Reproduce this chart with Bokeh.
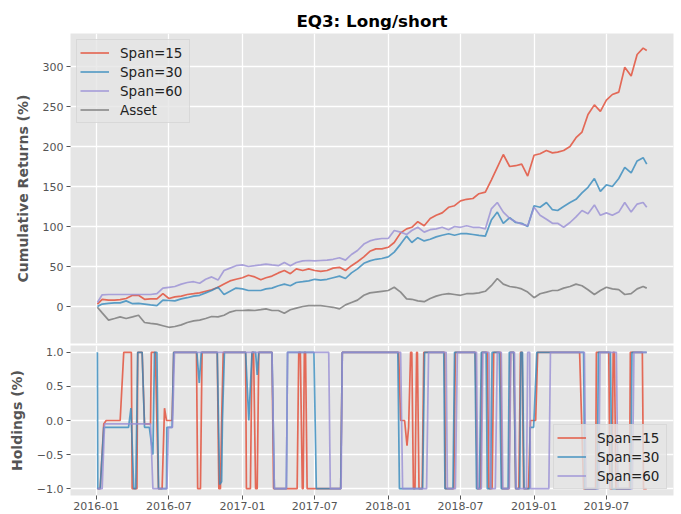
import pandas as pd
from bokeh.plotting import figure
from bokeh.models import (Range1d, FixedTicker, DatetimeTickFormatter, CustomJSTickFormatter,
                          Legend, LegendItem)
from bokeh.layouts import column
from bokeh.embed import file_html
from bokeh.resources import INLINE

# ---------------- data ----------------
dates = [
    "2016-01-04", "2016-01-16", "2016-02-01", "2016-02-16", "2016-03-01", "2016-03-16",
    "2016-04-01", "2016-04-16", "2016-05-01", "2016-05-16", "2016-06-01", "2016-06-16",
    "2016-07-01", "2016-07-16", "2016-08-01", "2016-08-16", "2016-09-01", "2016-09-16",
    "2016-10-01", "2016-10-16", "2016-11-01", "2016-11-16", "2016-12-01", "2016-12-16",
    "2017-01-01", "2017-01-16", "2017-02-01", "2017-02-16", "2017-03-01", "2017-03-16",
    "2017-04-01", "2017-04-16", "2017-05-01", "2017-05-16", "2017-06-01", "2017-06-16",
    "2017-07-01", "2017-07-16", "2017-08-01", "2017-08-16", "2017-09-01", "2017-09-16",
    "2017-10-01", "2017-10-16", "2017-11-01", "2017-11-16", "2017-12-01", "2017-12-16",
    "2018-01-01", "2018-01-16", "2018-02-01", "2018-02-16", "2018-03-01", "2018-03-16",
    "2018-04-01", "2018-04-16", "2018-05-01", "2018-05-16", "2018-06-01", "2018-06-16",
    "2018-07-01", "2018-07-16", "2018-08-01", "2018-08-16", "2018-09-01", "2018-09-16",
    "2018-10-01", "2018-10-16", "2018-11-01", "2018-11-16", "2018-12-01", "2018-12-16",
    "2019-01-01", "2019-01-16", "2019-02-01", "2019-02-16", "2019-03-01", "2019-03-16",
    "2019-04-01", "2019-04-16", "2019-05-01", "2019-05-16", "2019-06-01", "2019-06-16",
    "2019-07-01", "2019-07-16", "2019-08-01", "2019-08-16", "2019-09-01", "2019-09-16",
    "2019-10-01", "2019-10-10",
]

ret_span15 = [
    3, 9, 8, 8, 8.5, 10, 14, 14, 9, 9.6, 9.6, 16, 10, 12, 13, 15, 16, 17, 19, 21, 24, 28, 32, 34,
    36, 39, 37, 33.5, 36, 38, 42, 45, 41, 47, 45, 47, 45, 44, 45, 48, 49, 45, 51, 56, 62, 69, 72, 72,
    74, 80, 92, 97, 99, 106, 101, 110, 114, 117, 124, 126, 132, 134, 135, 141, 143, 158, 174, 190, 175, 176, 178, 163,
    189, 191, 195, 192, 193, 195, 200, 211, 218, 240, 252, 244, 258, 265, 268, 299, 288, 315, 323, 320,
]
ret_span30 = [
    0, 3, 4, 4.5, 4.5, 7, 3.5, 4, 3, 2, 1, 8, 7.5, 7, 9.5, 11, 13, 14, 17, 20, 24, 15, 19, 23,
    22, 20, 20, 20, 22, 23, 26, 28, 26, 30, 31, 32, 34, 33, 34, 36, 38, 35, 42, 47, 54, 57, 59, 60,
    62, 68, 78, 88, 80, 86, 82, 84, 87, 89, 91, 89, 91, 91, 90, 89, 88, 108, 118, 104, 111, 105, 104, 100,
    126, 124, 130, 121, 120, 125, 130, 134, 142, 149, 160, 144, 152, 150, 160, 174, 167, 182, 186, 178,
]
ret_span60 = [
    5, 14.6, 15, 15, 15, 15, 15, 15, 15, 15, 16, 23, 24, 25, 28, 30, 31, 29, 34, 37, 33, 45, 48, 51,
    52, 50, 51, 52, 53, 52, 51, 55, 51, 55, 57, 57.5, 57, 57.5, 58, 59, 61, 58, 65, 70, 78, 82, 84, 85,
    85, 95, 93, 90, 95, 99, 93, 96, 97, 99, 96, 100, 99, 101, 99, 99, 97, 122, 130, 118, 110, 106, 103, 101,
    124, 114, 109, 104, 104, 99, 105, 112, 120, 116, 127, 114, 117, 114, 118, 130, 118, 128, 130, 124,
]
ret_asset = [
    -1, -8, -17, -15, -13, -15, -13, -11, -20, -21, -22, -24, -26, -25, -23, -20, -18, -17, -15, -12.5, -13, -11, -7, -5,
    -5, -4.5, -5, -4, -3, -5, -5, -8.5, -4, -2, 0, 1, 1, 1, 0, -1, -3, 2, 5, 8, 14, 17, 18, 19,
    20, 24, 18, 9.6, 9, 7, 6, 10, 13, 15, 16, 15, 14, 16, 16, 17, 19, 26, 35, 28, 25, 24, 22, 18,
    11, 16, 18, 20, 20, 23, 25, 28, 26, 21, 15, 20, 24, 22, 21, 15, 16, 22, 25, 23,
]

hold15_dates = [
    "2016-01-04", "2016-01-11", "2016-01-20", "2016-01-26", "2016-03-01", "2016-03-10", "2016-03-29",
    "2016-03-31", "2016-04-12", "2016-04-14", "2016-04-25", "2016-05-01", "2016-05-16", "2016-05-18",
    "2016-05-28", "2016-06-05", "2016-06-14", "2016-06-20", "2016-06-25", "2016-07-09", "2016-07-13",
    "2016-09-08", "2016-09-11", "2016-09-18", "2016-09-22", "2016-10-30", "2016-11-03", "2016-11-07",
    "2016-11-10", "2016-11-14", "2017-01-09", "2017-01-11", "2017-01-21", "2017-01-25", "2017-01-29",
    "2017-02-03", "2017-02-07", "2017-02-11", "2017-03-16", "2017-03-20", "2017-05-18", "2017-05-22",
    "2017-05-26", "2017-05-31", "2017-06-02", "2017-06-05", "2017-06-08", "2017-06-12", "2017-09-04",
    "2017-09-08", "2018-01-27", "2018-02-01", "2018-02-11", "2018-02-17", "2018-02-21", "2018-02-26",
    "2018-03-01", "2018-03-05", "2018-03-09", "2018-03-13", "2018-03-15", "2018-03-19", "2018-03-27",
    "2018-03-31", "2018-05-22", "2018-05-24", "2018-06-14", "2018-06-18", "2018-08-07", "2018-08-12",
    "2018-08-20", "2018-08-24", "2018-09-06", "2018-09-10", "2018-09-18", "2018-09-22", "2018-10-09",
    "2018-10-13", "2018-10-30", "2018-11-03", "2018-11-11", "2018-11-16", "2018-11-24", "2018-11-28",
    "2018-12-02", "2018-12-06", "2018-12-18", "2018-12-23", "2019-01-05", "2019-01-10", "2019-04-25",
    "2019-05-05", "2019-06-04", "2019-06-06", "2019-07-07", "2019-07-10", "2019-07-15", "2019-07-18",
    "2019-07-21", "2019-07-25", "2019-08-28", "2019-08-30", "2019-09-29", "2019-10-02", "2019-10-10",
]
hold15_vals = [
    -1, -1, -0.05, 0, 0, 1, 1,
    -1, -1, 1, 1, -0.05, -0.05, 1,
    1, -1, -1, 0.18, 0, 0, 1,
    1, -1, -1, 1, 1, -1, -1,
    0, 1, 1, -1, -1, 1, 1,
    -1, -1, 1, 1, -1, -1, 1,
    1, -1, -1, 1, 1, -1, -1,
    1, 1, 0, 0, -0.37, -0.1, 1,
    1, -1, -1, 1, 1, -1, -1,
    1, 1, -1, -1, 1, 1, -1,
    -1, 1, 1, -1, -1, 1, 1,
    -1, -1, 1, 1, -1, -1, 1,
    1, -1, -1, 0, 0, 1, 1,
    -1, -1, 1, 1, -1, -1, 1,
    1, -1, -1, 1, 1, -1, -1,
]

hold30_dates = [
    "2016-01-04", "2016-01-05", "2016-01-11", "2016-01-20", "2016-03-22", "2016-03-28", "2016-04-04",
    "2016-04-09", "2016-04-14", "2016-04-25", "2016-05-01", "2016-05-13", "2016-05-22", "2016-05-26",
    "2016-06-01", "2016-06-05", "2016-06-25", "2016-06-26", "2016-07-09", "2016-07-13", "2016-09-09",
    "2016-09-15", "2016-09-20", "2016-10-30", "2016-11-05", "2016-11-10", "2016-11-12", "2016-11-17",
    "2017-01-09", "2017-01-17", "2017-01-25", "2017-02-03", "2017-02-07", "2017-02-11", "2017-03-16",
    "2017-03-22", "2017-04-21", "2017-04-24", "2017-06-29", "2017-07-05", "2017-09-04", "2017-09-08",
    "2018-01-25", "2018-01-29", "2018-03-28", "2018-04-02", "2018-05-20", "2018-05-23", "2018-06-12",
    "2018-06-16", "2018-08-06", "2018-08-10", "2018-08-17", "2018-08-22", "2018-09-03", "2018-09-06",
    "2018-09-14", "2018-09-18", "2018-10-06", "2018-10-11", "2018-10-28", "2018-10-31", "2018-11-11",
    "2018-11-16", "2018-11-26", "2018-11-29", "2018-12-03", "2018-12-07", "2018-12-21", "2018-12-22",
    "2018-12-31", "2019-01-08", "2019-05-05", "2019-05-08", "2019-06-08", "2019-06-11", "2019-07-11",
    "2019-07-15", "2019-08-31", "2019-09-03", "2019-10-10",
]
hold30_vals = [
    1, -1, -1, -0.1, -0.1, 0.18, -1,
    -1, 1, 1, -0.1, -0.1, -0.5, 1,
    1, -1, -1, -0.1, -0.1, 1, 1,
    0.55, 1, 1, -0.94, -0.9, 0, 1,
    1, 0, 1, 1, 0.67, 1, 1,
    -1, -1, 1, 1, -1, -1, 1,
    1, -1, -1, 1, 1, -1, -1,
    1, 1, -1, -1, 1, 1, -1,
    -1, 1, 1, -1, -1, 1, 1,
    -1, -1, 1, 1, -1, -1, -0.1,
    -0.1, 1, 1, -1, -1, 1, 1,
    -1, -1, 1, 1,
]

hold60_dates = [
    "2016-01-04", "2016-01-16", "2016-01-22", "2016-05-16", "2016-05-22", "2016-06-26", "2016-06-30",
    "2016-07-10", "2016-07-15", "2017-03-16", "2017-03-22", "2017-04-21", "2017-04-24", "2017-08-05",
    "2017-08-09", "2017-09-05", "2017-09-08", "2018-02-01", "2018-02-06", "2018-04-07", "2018-04-12",
    "2018-05-26", "2018-05-29", "2018-06-18", "2018-06-23", "2018-08-10", "2018-08-13", "2018-08-22",
    "2018-08-26", "2018-09-10", "2018-09-14", "2018-09-26", "2018-10-01", "2018-10-11", "2018-10-15",
    "2018-10-31", "2018-11-04", "2018-11-13", "2018-11-17", "2018-12-13", "2018-12-16", "2018-12-21",
    "2018-12-23", "2019-02-07", "2019-02-11", "2019-05-07", "2019-05-11", "2019-06-12", "2019-06-15",
    "2019-07-26", "2019-07-30", "2019-09-04", "2019-09-08", "2019-10-10",
]
hold60_vals = [
    -1, -1, -0.05, -0.05, -1, -1, -0.1,
    -0.1, 1, 1, -1, -1, 1, 1,
    -1, -1, 1, 1, -1, -1, 1,
    1, -1, -1, 1, 1, -1, -1,
    1, 1, -1, -1, 1, 1, -1,
    -1, 1, 1, -1, -1, 1, 1,
    -1, -1, 1, 1, -1, -1, 1,
    1, -1, -1, 1, 1,
]

x_tick_labels = ["2016-01", "2016-07", "2017-01", "2017-07", "2018-01", "2018-07", "2019-01", "2019-07"]
ret_ticks = [0, 50, 100, 150, 200, 250, 300]
hold_ticks = [-1.0, -0.5, 0.0, 0.5, 1.0]

# ---------------- styling ----------------
RED, BLUE, PURPLE, GRAY = "#E24A33", "#348ABD", "#988ED5", "#777777"
BG = "#E5E5E5"
TXT = "#555555"
FONT = "DejaVu Sans"
LW = 1.7
ALPHA = 0.8

t = pd.to_datetime(dates)
xr = Range1d(start=pd.Timestamp("2015-10-28 17:00"), end=pd.Timestamp("2019-12-16"))
xticks = [pd.Timestamp(s + "-01").value // 10**6 for s in x_tick_labels]


def style(p):
    p.background_fill_color = BG
    p.border_fill_color = "white"
    p.outline_line_color = None
    for g in (p.xgrid, p.ygrid):
        g.grid_line_color = "white"
        g.grid_line_width = 1.3
    p.xgrid.ticker = FixedTicker(ticks=xticks)
    for ax in p.yaxis:
        ax.axis_line_color = None
        ax.major_tick_line_color = TXT
        ax.major_tick_out = 4
        ax.major_tick_in = 0
        ax.minor_tick_line_color = None
        ax.major_label_text_color = TXT
        ax.major_label_text_font = FONT
        ax.major_label_text_font_size = "11px"
        ax.major_label_standoff = 3
        ax.axis_label_text_font = FONT
        ax.axis_label_text_font_size = "14px"
        ax.axis_label_text_font_style = "bold"
        ax.axis_label_text_color = TXT
        ax.axis_label_standoff = 9


def legend_style(lg):
    lg.background_fill_color = BG
    lg.background_fill_alpha = 0.8
    lg.border_line_color = "#CCCCCC"
    lg.border_line_width = 1
    lg.label_text_font = FONT
    lg.label_text_font_size = "13.5px"
    lg.label_text_color = "#222222"
    lg.glyph_width = 29
    lg.glyph_height = 19
    lg.label_height = 19
    lg.label_width = 66
    lg.label_standoff = 11
    lg.spacing = 0
    lg.padding = 3
    lg.margin = 6


# ---------------- top: cumulative returns ----------------
p1 = figure(width=681, height=344, x_axis_type="datetime", x_range=xr,
            y_range=Range1d(-46.25, 341.25), x_axis_location=None,
            output_backend="svg", toolbar_location=None,
            min_border_left=70, min_border_right=8, min_border_top=33, min_border_bottom=1)
p1.title.text = "EQ3: Long/short"
p1.title.align = "center"
p1.title.text_font = FONT
p1.title.text_font_size = "16.7px"
p1.title.text_font_style = "bold"
p1.title.text_color = "black"
p1.title.standoff = 5
p1.yaxis.axis_label = "Cumulative Returns (%)"
p1.yaxis.ticker = FixedTicker(ticks=ret_ticks)
style(p1)

r15 = p1.line(t, ret_span15, color=RED, line_width=LW, line_alpha=ALPHA)
r30 = p1.line(t, ret_span30, color=BLUE, line_width=LW, line_alpha=ALPHA)
r60 = p1.line(t, ret_span60, color=PURPLE, line_width=LW, line_alpha=ALPHA)
ra = p1.line(t, ret_asset, color=GRAY, line_width=LW, line_alpha=ALPHA)
lg1 = Legend(items=[LegendItem(label="Span=15", renderers=[r15]),
                    LegendItem(label="Span=30", renderers=[r30]),
                    LegendItem(label="Span=60", renderers=[r60]),
                    LegendItem(label="Asset", renderers=[ra])],
             location="top_left")
legend_style(lg1)
p1.add_layout(lg1)

# ---------------- bottom: holdings ----------------
p2 = figure(width=681, height=168, x_axis_type="datetime", x_range=xr,
            y_range=Range1d(-1.1, 1.1),
            output_backend="svg", toolbar_location=None,
            min_border_left=70, min_border_right=8, min_border_top=1, min_border_bottom=0)
p2.yaxis.axis_label = "Holdings (%)"
p2.yaxis.ticker = FixedTicker(ticks=hold_ticks)
p2.yaxis.formatter = CustomJSTickFormatter(code="return tick.toFixed(1).replace('-', '\\u2212');")
style(p2)
xa = p2.xaxis[0]
xa.ticker = FixedTicker(ticks=xticks)
xa.formatter = DatetimeTickFormatter(days="%Y-%m", months="%Y-%m", years="%Y-%m")
xa.axis_line_color = None
xa.major_tick_line_color = TXT
xa.major_tick_out = 4
xa.major_tick_in = 0
xa.minor_tick_line_color = None
xa.major_label_text_color = TXT
xa.major_label_text_font = FONT
xa.major_label_text_font_size = "11px"
xa.major_label_standoff = 2

h15 = p2.line(pd.to_datetime(hold15_dates), hold15_vals, color=RED, line_width=LW, line_alpha=ALPHA)
h30 = p2.line(pd.to_datetime(hold30_dates), hold30_vals, color=BLUE, line_width=LW, line_alpha=ALPHA)
h60 = p2.line(pd.to_datetime(hold60_dates), hold60_vals, color=PURPLE, line_width=LW, line_alpha=ALPHA)
lg2 = Legend(items=[LegendItem(label="Span=15", renderers=[h15]),
                    LegendItem(label="Span=30", renderers=[h30]),
                    LegendItem(label="Span=60", renderers=[h60])],
             location="bottom_right")
legend_style(lg2)
p2.add_layout(lg2)

layout = column(p1, p2, spacing=0)
open("out.html", "w").write(file_html(layout, INLINE))
